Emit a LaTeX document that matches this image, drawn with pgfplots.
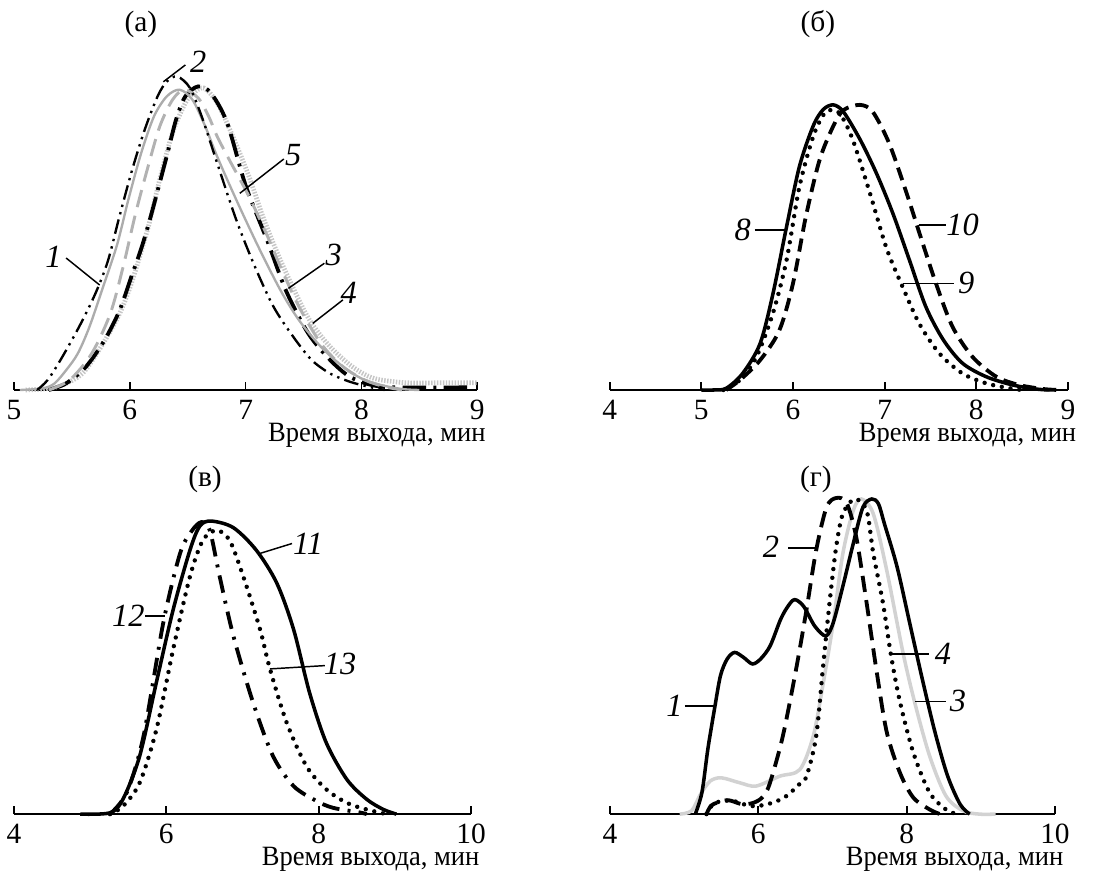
\documentclass[border=0pt]{standalone}
\usepackage{fontspec}
\setmainfont{Liberation Serif}
\newfontfamily\condserif[FakeStretch=0.95]{Liberation Serif}
\usepackage{pgfplots}
\pgfplotsset{compat=1.18}

\pgfplotsset{
  panel/.style={
    scale only axis, clip=false,
    hide y axis, axis x line*=bottom,
    ymin=0, ymax=1, height=112.2pt,
    tick align=inside, major tick length=2.7pt,
    x axis line style={line width=0.6pt, -},
    every tick/.style={black, line width=0.6pt},
    tick label style={font=\fontsize{10}{12}\selectfont},
    xticklabel style={inner sep=0.5pt, yshift=-2.8pt},
    /pgf/number format/assume math mode=true,
    xlabel={Время выхода, мин},
    xlabel style={at={(rel axis cs:1,0)}, anchor=north east,
                  yshift=-11pt, xshift=3pt, inner sep=0pt,
                  font=\condserif\fontsize{9.5}{11}\selectfont},
    every axis plot/.append style={smooth, tension=0.5, no markers},
  },
}
\tikzset{lead/.style={line width=0.5pt},
  lab/.style={font=\fontsize{11}{13}\selectfont\itshape, inner sep=1pt},
  dots/.style={black, line width=1.5pt, line cap=round, dash pattern=on 0pt off 3pt}}

\begin{document}
\begin{tikzpicture}
\useasboundingbox (0,0) rectangle (376.04pt,-296.48pt);

% titles
\node[font=\fontsize{10}{12}\selectfont] at (47.9pt,-8.2pt) {(а)};
\node[font=\fontsize{10}{12}\selectfont] at (278.1pt,-8.2pt) {(б)};
\node[font=\fontsize{10}{12}\selectfont] at (69.7pt,-162.9pt) {(в)};
\node[font=\fontsize{10}{12}\selectfont] at (277.4pt,-162.9pt) {(г)};

% (а)
\begin{axis}[panel, at={(4.76pt,-132.6pt)}, anchor=south west,
  width=157.5pt, xmin=5, xmax=9, xtick={5,6,7,8,9}]
  % 4: stippled
  \addplot[gray!45, line width=1.6pt, dash pattern=on 0.5pt off 0.5pt] coordinates {
    (5.10,0)(5.25,0.003)(5.40,0.012)(5.59,0.05)(5.75,0.13)(5.91,0.23)(6.02,0.33)
    (6.16,0.495)(6.26,0.64)(6.37,0.78)(6.48,0.87)(6.55,0.90)(6.64,0.915)(6.755,0.87)
    (6.89,0.768)(7.03,0.646)(7.16,0.515)(7.30,0.394)(7.46,0.273)(7.57,0.202)
    (7.73,0.131)(7.92,0.071)(8.11,0.035)(8.39,0.022)(8.70,0.022)(9.00,0.022)};
  % 3: long dash dot, heavy
  \addplot[black, line width=1.3pt, dash pattern=on 8pt off 2.5pt on 1pt off 2.5pt] coordinates {
    (5.30,0)(5.45,0.02)(5.62,0.07)(5.78,0.15)(5.91,0.24)(6.02,0.35)(6.10,0.43)
    (6.18,0.525)(6.32,0.71)(6.40,0.82)(6.48,0.89)(6.59,0.92)(6.70,0.90)(6.84,0.81)
    (7.00,0.62)(7.19,0.45)(7.35,0.30)(7.54,0.172)(7.73,0.091)(7.90,0.04)(8.09,0.015)
    (8.30,0.008)(8.95,0.008)};
  % 5: gray dashed
  \addplot[gray!60, line width=1pt, dash pattern=on 6pt off 3pt] coordinates {
    (5.30,0)(5.48,0.03)(5.67,0.11)(5.83,0.23)(5.94,0.37)(6.05,0.535)(6.16,0.68)
    (6.26,0.80)(6.37,0.88)(6.47,0.91)(6.59,0.885)(6.68,0.83)(6.755,0.768)(6.86,0.697)
    (7.03,0.586)(7.19,0.465)(7.30,0.374)(7.46,0.253)(7.65,0.141)(7.84,0.071)
    (8.03,0.03)(8.20,0.01)(8.35,0)};
  % 1: gray solid
  \addplot[gray!65, line width=0.8pt] coordinates {
    (5.05,0)(5.25,0.005)(5.35,0.02)(5.45,0.06)(5.55,0.11)(5.65,0.19)(5.765,0.308)
    (5.89,0.44)(5.99,0.58)(6.10,0.72)(6.21,0.83)(6.32,0.89)(6.43,0.91)(6.54,0.88)
    (6.65,0.80)(6.755,0.707)(6.92,0.576)(7.11,0.434)(7.30,0.303)(7.46,0.212)
    (7.65,0.131)(7.84,0.071)(8.00,0.035)(8.17,0.015)(8.35,0.003)(8.50,0)};
  % 2: dash dot dot
  \addplot[black, line width=0.8pt, dash pattern=on 5pt off 1.8pt on 0.8pt off 1.8pt on 0.8pt off 1.8pt] coordinates {
    (5.20,0)(5.29,0.03)(5.40,0.09)(5.56,0.19)(5.70,0.29)(5.81,0.39)(5.91,0.525)
    (6.02,0.667)(6.13,0.79)(6.24,0.89)(6.32,0.935)(6.41,0.95)(6.52,0.915)(6.63,0.82)
    (6.755,0.687)(6.92,0.515)(7.08,0.374)(7.24,0.253)(7.41,0.162)(7.57,0.091)
    (7.73,0.05)(7.90,0.025)(8.06,0.01)(8.20,0)};
  \node[lab] at (axis cs:6.59,0.995) {2};
  \draw[lead] (axis cs:6.48,0.985) -- (axis cs:6.29,0.934);
  \node[lab] at (axis cs:5.34,0.404) {1};
  \draw[lead] (axis cs:5.45,0.40) -- (axis cs:5.74,0.318);
  \node[lab] at (axis cs:7.41,0.712) {5};
  \draw[lead] (axis cs:7.33,0.70) -- (axis cs:6.95,0.596);
  \node[lab] at (axis cs:7.76,0.409) {3};
  \draw[lead] (axis cs:7.68,0.384) -- (axis cs:7.37,0.308);
  \node[lab] at (axis cs:7.89,0.293) {4};
  \draw[lead] (axis cs:7.84,0.273) -- (axis cs:7.58,0.202);
\end{axis}

% (б)
\begin{axis}[panel, at={(207.3pt,-132.6pt)}, anchor=south west,
  width=155.8pt, xmin=4, xmax=9, xtick={4,5,6,7,8,9}]
  \addplot[black, line width=1.2pt] coordinates {
    (5.00,0)(5.13,0)(5.27,0.005)(5.45,0.05)(5.64,0.14)(5.78,0.29)(5.93,0.495)
    (6.07,0.677)(6.22,0.80)(6.33,0.85)(6.44,0.864)(6.55,0.843)(6.73,0.76)(6.91,0.657)
    (7.09,0.535)(7.27,0.394)(7.45,0.252)(7.64,0.152)(7.85,0.081)(8.11,0.04)
    (8.40,0.015)(8.65,0.003)(8.80,0)};
  \addplot[dots] coordinates {
    (5.24,0)(5.42,0.03)(5.60,0.10)(5.78,0.232)(5.93,0.394)(6.07,0.616)(6.22,0.768)
    (6.33,0.833)(6.40,0.848)(6.51,0.838)(6.65,0.76)(6.84,0.596)(7.02,0.43)(7.20,0.31)
    (7.38,0.20)(7.60,0.11)(7.85,0.05)(8.11,0.02)(8.37,0.005)(8.50,0)};
  \addplot[black, line width=1.3pt, dash pattern=on 4.5pt off 2.4pt] coordinates {
    (5.27,0)(5.42,0.03)(5.64,0.09)(5.85,0.18)(6.00,0.323)(6.14,0.525)(6.29,0.697)
    (6.44,0.80)(6.55,0.848)(6.73,0.864)(6.87,0.843)(7.05,0.747)(7.24,0.596)
    (7.38,0.475)(7.56,0.323)(7.74,0.192)(7.96,0.10)(8.22,0.04)(8.47,0.015)
    (8.73,0.003)(8.90,0)};
  \node[lab] at (axis cs:5.45,0.485) {8};
  \draw[lead] (axis cs:5.58,0.485) -- (axis cs:5.93,0.485);
  \node[lab] at (axis cs:7.85,0.50) {10};
  \draw[lead] (axis cs:7.38,0.50) -- (axis cs:7.67,0.50);
  \node[lab] at (axis cs:7.89,0.323) {9};
  \draw[lead] (axis cs:7.20,0.323) -- (axis cs:7.76,0.323);
\end{axis}

% (в)
\begin{axis}[panel, at={(4.76pt,-276.8pt)}, anchor=south west,
  width=155.4pt, xmin=4, xmax=10, xtick={4,6,8,10}]
  \addplot[black, line width=1.2pt] coordinates {
    (4.87,0)(5.26,0.004)(5.43,0.045)(5.65,0.176)(5.87,0.40)(6.09,0.62)(6.31,0.80)
    (6.44,0.873)(6.59,0.888)(6.88,0.868)(7.18,0.80)(7.45,0.70)(7.67,0.56)(7.88,0.368)
    (8.10,0.216)(8.37,0.105)(8.63,0.045)(8.85,0.014)(9.02,0)};
  \addplot[black, line width=1.3pt, dash pattern=on 6pt off 2.8pt on 1pt off 2.8pt] coordinates {
    (5.26,0)(5.48,0.065)(5.70,0.236)(5.96,0.58)(6.18,0.79)(6.33,0.857)(6.46,0.885)
    (6.57,0.86)(6.70,0.72)(6.88,0.54)(7.14,0.337)(7.40,0.176)(7.67,0.085)(7.97,0.04)
    (8.19,0.019)(8.54,0.005)(8.63,0)};
  \addplot[dots] coordinates {
    (5.26,0)(5.43,0.024)(5.65,0.095)(5.87,0.257)(6.09,0.50)(6.31,0.72)(6.48,0.83)
    (6.66,0.86)(6.83,0.83)(7.01,0.72)(7.23,0.56)(7.36,0.44)(7.58,0.277)(7.84,0.145)
    (8.10,0.075)(8.37,0.034)(8.63,0.014)(8.89,0)};
  \node[lab] at (axis cs:7.86,0.82) {11};
  \draw[lead] (axis cs:7.65,0.82) -- (axis cs:7.23,0.79);
  \node[lab] at (axis cs:5.50,0.60) {12};
  \draw[lead] (axis cs:5.72,0.60) -- (axis cs:5.98,0.60);
  \node[lab] at (axis cs:8.28,0.455) {13};
  \draw[lead] (axis cs:8.08,0.45) -- (axis cs:7.36,0.44);
\end{axis}

% (г)
\begin{axis}[panel, at={(207.4pt,-276.8pt)}, anchor=south west,
  width=151.3pt, xmin=4, xmax=10, xtick={4,6,8,10}]
  \addplot[gray!35, line width=1.2pt] coordinates {
    (4.94,0)(5.10,0.01)(5.22,0.06)(5.35,0.10)(5.50,0.11)(5.75,0.095)(5.97,0.085)
    (6.29,0.115)(6.56,0.135)(6.74,0.236)(6.87,0.39)(7.01,0.58)(7.14,0.79)(7.28,0.92)
    (7.39,0.955)(7.55,0.91)(7.73,0.74)(7.95,0.49)(8.11,0.337)(8.31,0.176)(8.53,0.055)
    (8.76,0.01)(8.98,0)(9.20,0)};
  \addplot[black, line width=1.2pt] coordinates {
    (5.15,0)(5.24,0.066)(5.32,0.198)(5.41,0.32)(5.49,0.42)(5.58,0.47)(5.68,0.49)
    (5.80,0.475)(5.92,0.455)(6.03,0.47)(6.16,0.51)(6.30,0.59)(6.40,0.63)(6.49,0.65)
    (6.61,0.63)(6.76,0.57)(6.91,0.54)(7.01,0.58)(7.15,0.70)(7.28,0.82)(7.41,0.93)
    (7.53,0.955)(7.62,0.94)(7.70,0.88)(7.87,0.75)(8.04,0.58)(8.21,0.41)(8.38,0.25)
    (8.55,0.117)(8.72,0.03)(8.85,0)};
  \addplot[black, line width=1.3pt, dash pattern=on 5.5pt off 2.8pt] coordinates {
    (5.30,0)(5.36,0.025)(5.45,0.035)(5.60,0.042)(5.78,0.03)(5.93,0.034)(6.05,0.05)
    (6.15,0.09)(6.33,0.236)(6.51,0.44)(6.65,0.62)(6.78,0.80)(6.92,0.93)(7.05,0.958)
    (7.19,0.943)(7.32,0.84)(7.46,0.64)(7.59,0.44)(7.73,0.25)(7.91,0.125)(8.09,0.05)
    (8.31,0.014)(8.45,0)};
  \addplot[dots] coordinates {
    (5.30,0)(5.39,0.03)(5.52,0.04)(5.66,0.04)(5.80,0.03)(5.97,0.024)(6.20,0.035)
    (6.38,0.055)(6.55,0.09)(6.65,0.115)(6.78,0.236)(6.87,0.44)(6.96,0.64)(7.05,0.81)
    (7.14,0.91)(7.30,0.955)(7.46,0.92)(7.55,0.79)(7.68,0.64)(7.79,0.48)(7.91,0.34)
    (8.09,0.186)(8.31,0.065)(8.53,0.014)(8.68,0)};
  \node[lab] at (axis cs:6.17,0.81) {2};
  \draw[lead] (axis cs:6.40,0.806) -- (axis cs:6.80,0.806);
  \node[lab] at (axis cs:4.87,0.327) {1};
  \draw[lead] (axis cs:5.01,0.327) -- (axis cs:5.43,0.327);
  \node[lab] at (axis cs:8.49,0.485) {4};
  \draw[lead] (axis cs:7.79,0.485) -- (axis cs:8.30,0.485);
  \node[lab] at (axis cs:8.69,0.342) {3};
  \draw[lead] (axis cs:8.11,0.342) -- (axis cs:8.53,0.342);
\end{axis}
\end{tikzpicture}
\end{document}
